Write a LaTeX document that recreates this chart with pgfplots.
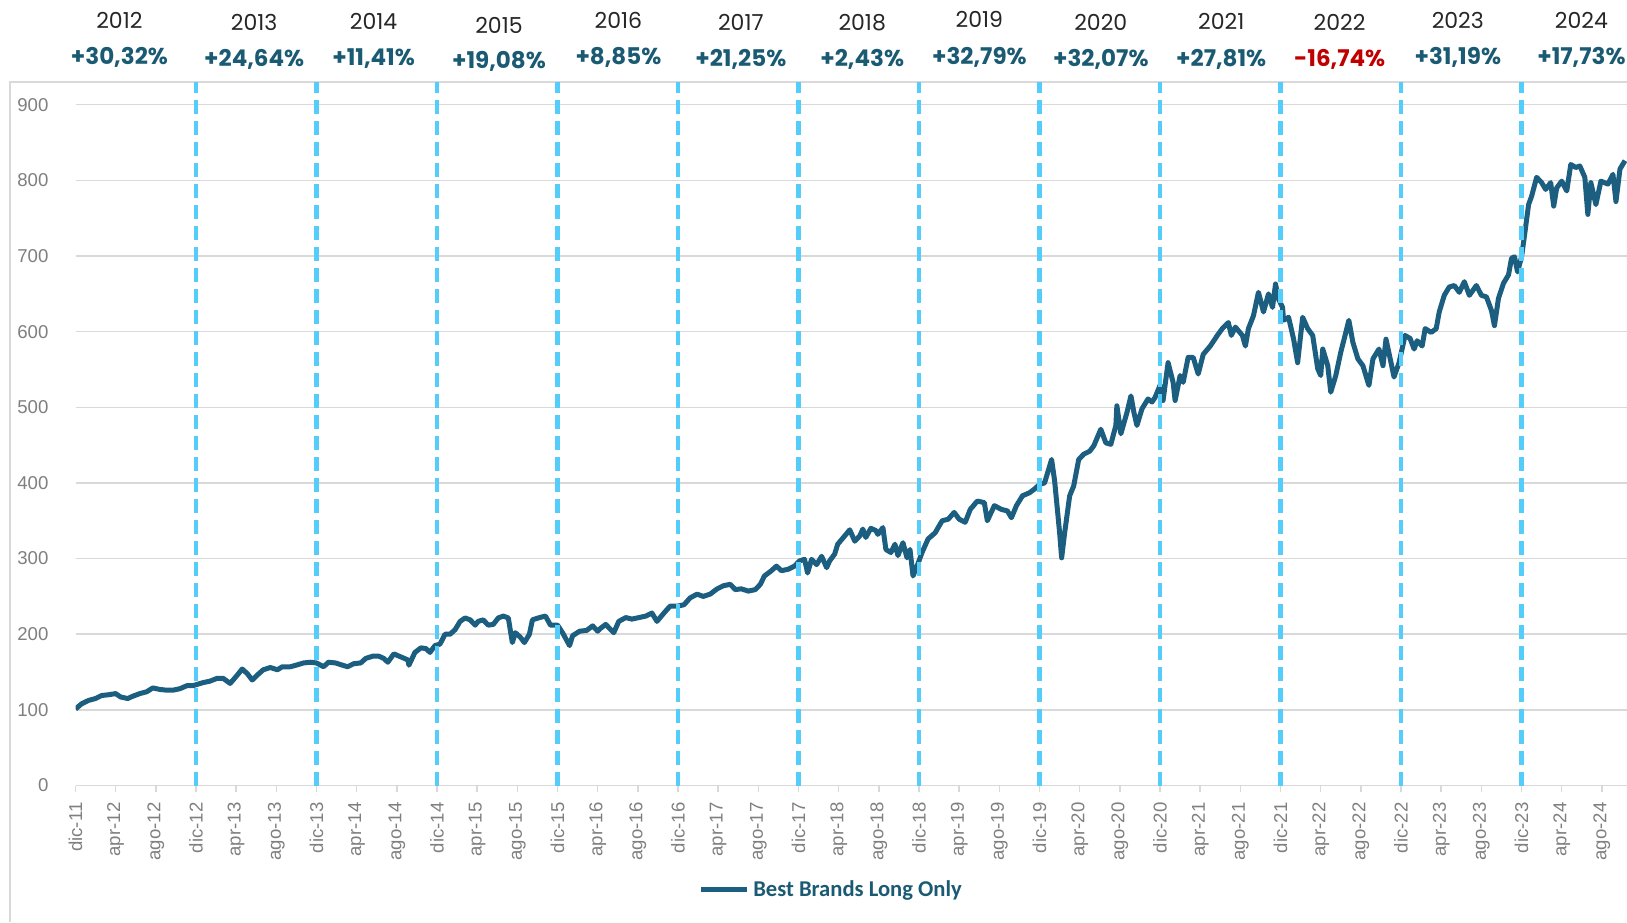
\documentclass[border=0pt]{standalone}
\usepackage{pgfplots}
\pgfplotsset{compat=1.18}
\usepackage{pgfplotstable}
\usepackage{fontspec}
\setmainfont{Liberation Sans}
\newfontfamily\poppins{Poppins}
\newfontfamily\carlito{Carlito}
\definecolor{bbline}{RGB}{27,94,128}
\definecolor{bbtext}{RGB}{27,90,115}
\definecolor{yrline}{RGB}{85,205,250}
\definecolor{gridc}{RGB}{217,217,217}
\definecolor{tickc}{RGB}{127,127,127}
\definecolor{negred}{RGB}{192,0,0}

\pgfplotstableread{
m v
0 101
0.6 108
1.3 112.5
2.0 115
2.6 119
3.3 120
4.0 121.5
4.5 117
5.2 115
5.7 118
6.4 121.5
7.1 124
7.7 129
8.4 127
9.1 126
9.7 126
10.4 128
11.1 132
11.7 132
12.1 133.6
12.7 136
13.4 138
14.1 141.7
14.7 141.7
15.4 135
15.9 142.6
16.6 154
17.1 148
17.6 139.5
18.1 146
18.7 153
19.4 156
20.1 153
20.6 157
21.4 157
22.1 159.6
22.7 162
23.4 163
24.0 162
24.7 157
25.2 163
25.9 162
26.6 159
27.1 157
27.7 161
28.4 162
28.9 168
29.6 171
30.2 171
30.7 168
31.1 163
31.7 174
32.4 170
33.1 166
33.2 159
33.8 176
34.4 182
34.9 181
35.3 176
35.8 185
36.3 187
36.8 200
37.3 200
37.8 206
38.3 217
38.8 221.5
39.3 219
39.8 212
40.1 217
40.6 219
41.1 212
41.6 213
42.1 221.5
42.6 224
43.1 221.5
43.5 189
43.8 202
44.3 196
44.7 189
45.2 200
45.5 219
46.2 222
46.8 224
47.3 212
48.0 212
48.5 202
49.2 185
49.5 198
50.2 204
50.9 205
51.5 211
52.0 204
52.3 208
52.8 213
53.3 206
53.6 202
54.1 217
54.8 222
55.4 220
56.1 222
56.8 224
57.4 228
57.9 217
58.6 228
59.2 237
59.9 237
60.6 239
61.2 248
61.9 253
62.5 250
63.2 253
63.9 260
64.5 264
65.2 266
65.7 259
66.3 260
67.0 257
67.7 259
68.2 266
68.6 277
69.3 284
69.8 290
70.3 284
71.0 286
71.6 290
72.1 297
72.6 299
72.9 281
73.3 299
73.8 292
74.3 303
74.8 288
75.1 297
75.6 306
75.9 319
76.6 330
77.1 338
77.6 323
78.1 330
78.4 339
78.7 328
79.2 340
79.7 337
79.9 332
80.4 341
80.7 312
81.2 308
81.6 319
81.9 304
82.4 321
82.8 301
83.1 312
83.4 277
83.8 290
84.3 308
84.9 326
85.6 334
86.3 350
86.9 352
87.5 361
88.0 352
88.6 348
89.1 365
89.8 376
90.5 374
90.8 350
91.5 370
92.2 365
92.8 363
93.2 354
93.7 370
94.3 383
95.0 387
95.5 392
96.0 398
96.5 400
97.2 431
97.5 403
98.0 334
98.2 301
98.5 334
99.0 383
99.4 396
99.9 431
100.4 438
101.0 442
101.4 449
102.1 471
102.6 453
103.1 451
103.6 476
103.7 502
104.1 465
104.7 493
105.1 515
105.4 493
105.7 476
106.2 498
106.8 511
107.2 507
107.5 513
108.0 529
108.3 509
108.8 559
109.3 533
109.5 509
110.0 542
110.3 533
110.8 566
111.3 566
111.8 544
112.3 570
113.0 581
113.7 595
114.2 604
114.8 612
115.1 595
115.5 606
116.2 595
116.5 581
116.8 604
117.3 621
117.8 652
118.3 626
118.8 650
119.2 632
119.5 663
119.8 643
120.2 632
120.3 615
120.8 619
121.3 590
121.7 559
122.2 619
122.7 604
123.2 595
123.7 551
124.0 542
124.2 577
124.7 555
125.0 520
125.5 542
126.0 573
126.5 599
126.8 615
127.2 586
127.7 564
128.2 555
128.7 533
128.8 529
129.2 564
129.8 577
130.2 555
130.5 590
131.0 559
131.3 540
131.8 559
132.4 595
132.9 591
133.3 577
133.6 588
134.1 581
134.4 604
135.0 599
135.5 604
135.8 626
136.3 648
136.8 659
137.3 661
137.8 652
138.3 666
138.8 648
139.5 661
140.0 648
140.5 646
141.0 628
141.3 608
141.7 644
142.2 664
142.7 675
143.0 697
143.3 699
143.6 679
144.0 699
144.3 728
144.7 768
145.0 779
145.5 804
146.0 797
146.4 788
146.9 797
147.2 766
147.5 790
148.0 799
148.5 786
148.9 821
149.4 817
149.8 819
150.3 804
150.6 755
150.9 797
151.4 768
151.9 799
152.6 795
153.1 808
153.4 772
153.8 815
154.3 826
}\bbdata

\begin{document}
\begin{tikzpicture}
\useasboundingbox (0,0) rectangle (813.5pt,-461pt);
% outer chart frame
\draw[gridc, line width=0.75pt] (5pt,-461pt) -- (5pt,-41pt) -- (813.5pt,-41pt);
\begin{axis}[
  at={(37.75pt,-392.75pt)}, anchor=south west,
  scale only axis, width=775.75pt, height=351.75pt,
  xmin=0, xmax=154.5, ymin=0, ymax=930,
  axis line style={draw=none},
  ytick={0,100,...,900},
  ymajorgrids, major grid style={gridc, line width=0.75pt},
  ytick style={draw=none},
  xtick={0,4,...,152},
  xticklabels={dic-11,apr-12,ago-12,dic-12,apr-13,ago-13,dic-13,apr-14,ago-14,dic-14,apr-15,ago-15,dic-15,apr-16,ago-16,dic-16,apr-17,ago-17,dic-17,apr-18,ago-18,dic-18,apr-19,ago-19,dic-19,apr-20,ago-20,dic-20,apr-21,ago-21,dic-21,apr-22,ago-22,dic-22,apr-23,ago-23,dic-23,apr-24,ago-24},
  xtick pos=bottom, tick align=outside,
  major tick length=3pt,
  xtick style={draw=gridc, line width=0.75pt},
  xticklabel style={rotate=90, anchor=east, font=\fontsize{9.3}{11}\selectfont, text=tickc},
  xticklabel shift=2pt,
  yticklabel style={font=\fontsize{9.3}{11}\selectfont, text=tickc},
  yticklabel shift=7pt,
  /pgf/number format/assume math mode=true,
  legend style={at={(0.4876,-0.1485)}, anchor=center, draw=none, fill=none,
    font=\carlito\bfseries\fontsize{11.3}{13}\selectfont, text=bbtext,
    inner sep=0pt},
  legend image code/.code={\draw[#1] (0pt,0pt) -- (23pt,0pt);},
  clip=true,
]
\addplot[bbline, line width=2.5pt, line join=round] table[x=m, y=v] {\bbdata};
\addlegendentry{Best Brands Long Only}
\pgfplotsinvokeforeach{12,24,36,48,60,72,84,96,108,120,132,144}{
  \addplot[forget plot, yrline, line width=2.1pt, dash pattern=on 7pt off 3.5pt] coordinates {(#1,0) (#1,930)};
}
\end{axis}
% year labels and annual returns
\begin{scope}[every node/.style={anchor=center, inner sep=0pt}]
\foreach \x/\y/\t in {59.7/-10.4/2012, 127.1/-11.4/2013, 186.8/-10.9/2014, 249.5/-12.5/2015, 309.2/-10.4/2016, 370.4/-11.4/2017, 431.1/-11.4/2018, 489.7/-9.9/2019, 550.4/-11.4/2020, 610.6/-10.9/2021, 669.8/-11.4/2022, 728.9/-10.4/2023, 790.7/-10.4/2024}
  \node[text={black!85}, font=\poppins\fontsize{11}{13}\selectfont] at (\x pt,\y pt) {\t};
\foreach \x/\y/\t in {59.7/-28.5/{+30,32\%}, 127.1/-29.6/{+24,64\%}, 186.8/-29.1/{+11,41\%}, 249.5/-30.6/{+19,08\%}, 309.2/-28.5/{+8,85\%}, 370.4/-29.6/{+21,25\%}, 431.1/-29.6/{+2,43\%}, 489.7/-28.5/{+32,79\%}, 550.4/-29.6/{+32,07\%}, 610.6/-29.6/{+27,81\%}, 728.9/-28.5/{+31,19\%}, 790.7/-28.5/{+17,73\%}}
  \node[text=bbtext, font=\poppins\bfseries\fontsize{11.5}{13}\selectfont] at (\x pt,\y pt) {\t};
\node[text=negred, font=\poppins\bfseries\fontsize{11.5}{13}\selectfont] at (669.8pt,-29.6pt) {-16,74\%};
\end{scope}
\end{tikzpicture}
\end{document}
